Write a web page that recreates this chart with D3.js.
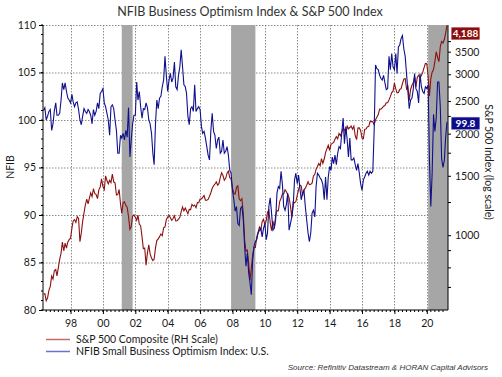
<!doctype html>
<html lang="en">
<head>
<meta charset="utf-8">
<title>NFIB vs S&amp;P 500</title>
<script src="https://d3js.org/d3.v7.min.js"></script>
<style>
  body { margin: 0; background: #fff; }
  svg text { font-family: Lato, "Open Sans", sans-serif; fill: #1a1a1a; }
</style>
</head>
<body>
<svg width="502" height="377"></svg>
<script>
// monthly values, May 1996 .. Apr 2021
var startMonth = "1996-05";

var nfib = [
  101.0, 101.3, 100.0, 100.4, 100.9, 101.1, 98.9, 99.6,                       // 1996 May-Dec
  101.0, 101.8, 100.5, 100.5, 100.7, 102.1, 103.9, 103.2, 103.9, 103.0, 102.3, 102.1, // 1997
  101.8, 102.7, 101.9, 101.4, 101.8, 101.9, 101.1, 100.0, 99.5, 100.4, 101.2, 100.9,  // 1998
  100.7, 101.1, 100.9, 100.5, 99.6, 101.1, 100.5, 100.9, 101.8, 101.2, 102.8, 103.0,  // 1999
  103.3, 101.8, 101.4, 100.7, 100.0, 98.4, 101.4, 101.6, 101.2, 100.0, 98.9, 96.5,    // 2000
  96.5, 98.4, 98.1, 98.6, 97.9, 98.9, 98.2, 101.3, 96.1, 97.9, 99.6, 100.5,           // 2001
  100.5, 104.0, 102.1, 103.0, 101.4, 100.2, 101.2, 101.1, 101.8, 101.3, 100.0, 99.6,  // 2002
  98.6, 96.5, 95.3, 99.6, 102.1, 101.2, 102.3, 102.5, 103.5, 104.2, 106.7, 104.7,     // 2003
  103.0, 104.2, 104.9, 104.0, 104.4, 106.1, 103.5, 103.2, 104.7, 105.6, 107.4, 105.6, // 2004
  103.7, 103.5, 102.8, 100.4, 99.5, 101.2, 101.4, 100.9, 103.7, 100.9, 101.2, 101.4,  // 2005
  101.1, 99.3, 98.6, 98.8, 98.1, 97.2, 96.3, 95.8, 98.9, 100.7, 98.8, 98.4,           // 2006
  97.0, 97.9, 98.2, 96.5, 96.7, 97.9, 96.5, 96.7, 97.2, 96.3, 94.7, 94.4,             // 2007
  92.6, 91.6, 90.4, 90.9, 89.1, 88.9, 90.7, 90.9, 89.5, 86.7, 84.6, 86.0,             // 2008
  83.9, 82.8, 81.6, 85.3, 86.7, 87.2, 87.4, 88.1, 88.4, 88.6, 87.7, 88.6,             // 2009
  89.1, 87.4, 88.1, 90.9, 91.8, 90.2, 88.4, 88.6, 89.5, 92.3, 93.0, 92.8,             // 2010
  94.6, 93.2, 90.9, 90.5, 91.1, 92.3, 88.4, 89.1, 89.8, 90.9, 93.7, 94.4,             // 2011
  93.3, 94.2, 92.8, 91.6, 92.3, 92.6, 90.9, 89.5, 88.1, 87.2, 88.1, 90.2,             // 2012
  90.5, 89.8, 93.0, 94.4, 94.2, 93.9, 93.7, 93.2, 91.6, 94.0, 91.6, 94.0,             // 2013
  95.1, 94.7, 96.1, 95.4, 96.3, 95.3, 96.5, 97.2, 97.0, 98.6, 100.2, 97.5,            // 2014
  99.3, 97.9, 96.1, 98.1, 95.8, 95.8, 96.0, 95.3, 94.7, 95.4, 94.4, 93.3,             // 2015
  92.6, 93.7, 94.0, 94.4, 94.6, 94.2, 94.6, 94.4, 94.6, 98.9, 105.8, 105.4,           // 2016
  105.3, 104.7, 104.4, 104.2, 104.7, 103.9, 103.2, 103.3, 106.7, 105.3, 107.0, 105.6, // 2017
  105.3, 107.0, 104.9, 107.7, 107.9, 108.6, 108.9, 107.5, 106.7, 104.9, 103.0, 101.2, // 2018
  102.1, 102.3, 103.2, 104.9, 103.3, 103.0, 101.8, 104.9, 103.5, 103.0, 102.8, 103.5, // 2019
  103.3, 103.7, 95.8, 90.9, 94.4, 100.6, 98.8, 100.2, 104.0, 104.0, 101.4, 95.9,      // 2020
  95.0, 95.8, 98.2, 99.8                                                              // 2021 Jan-Apr
];

var spx = [
  669, 671, 639, 652, 687, 705, 757, 741,                                // 1996 May-Dec
  786, 791, 757, 801, 848, 885, 954, 899, 947, 915, 955, 970,            // 1997
  980, 1049, 1102, 1112, 1091, 1134, 1121, 957, 1017, 1099, 1164, 1229,  // 1998
  1280, 1238, 1286, 1335, 1302, 1373, 1329, 1320, 1283, 1363, 1389, 1469, // 1999
  1394, 1366, 1499, 1452, 1421, 1455, 1431, 1518, 1437, 1429, 1315, 1320, // 2000
  1366, 1240, 1160, 1249, 1256, 1224, 1211, 1134, 1041, 1060, 1139, 1148, // 2001
  1130, 1107, 1147, 1077, 1067, 990, 912, 916, 815, 886, 936, 880,        // 2002
  856, 841, 848, 917, 964, 975, 990, 1008, 996, 1051, 1058, 1112,         // 2003
  1131, 1145, 1126, 1107, 1121, 1141, 1102, 1104, 1115, 1130, 1174, 1212, // 2004
  1181, 1204, 1181, 1157, 1192, 1191, 1234, 1220, 1229, 1207, 1249, 1248, // 2005
  1280, 1281, 1295, 1311, 1270, 1270, 1277, 1304, 1336, 1378, 1401, 1418, // 2006
  1438, 1407, 1421, 1482, 1531, 1503, 1455, 1474, 1527, 1549, 1481, 1468, // 2007
  1379, 1331, 1323, 1386, 1400, 1280, 1267, 1283, 1166, 969, 896, 903,    // 2008
  826, 735, 798, 873, 919, 919, 987, 1021, 1057, 1036, 1096, 1115,        // 2009
  1074, 1104, 1169, 1187, 1089, 1031, 1102, 1049, 1141, 1183, 1181, 1258, // 2010
  1286, 1327, 1326, 1364, 1345, 1321, 1292, 1219, 1131, 1253, 1247, 1258, // 2011
  1312, 1366, 1408, 1398, 1310, 1362, 1379, 1407, 1441, 1412, 1416, 1426, // 2012
  1498, 1515, 1569, 1598, 1631, 1606, 1686, 1633, 1682, 1757, 1806, 1848, // 2013
  1783, 1859, 1872, 1884, 1924, 1960, 1931, 2003, 1972, 2018, 2068, 2059, // 2014
  1995, 2105, 2068, 2086, 2107, 2063, 2104, 1972, 1920, 2079, 2080, 2044, // 2015
  1940, 1932, 2060, 2065, 2097, 2099, 2174, 2171, 2168, 2126, 2199, 2239, // 2016
  2279, 2364, 2363, 2384, 2412, 2423, 2470, 2472, 2519, 2575, 2648, 2674, // 2017
  2824, 2714, 2641, 2648, 2705, 2718, 2816, 2902, 2914, 2712, 2760, 2507, // 2018
  2704, 2784, 2834, 2946, 2752, 2942, 2980, 2926, 2977, 3038, 3141, 3231, // 2019
  3226, 2954, 2585, 2912, 3044, 3100, 3271, 3500, 3363, 3270, 3622, 3756, // 2020
  3714, 3811, 3973, 4188                                                   // 2021 Jan-Apr
];

var recessions = [["2001-03", "2001-11"], ["2007-12", "2009-06"], ["2020-02", "2021-04"]];
var xTickYears = [1998, 2000, 2002, 2004, 2006, 2008, 2010, 2012, 2014, 2016, 2018, 2020];
var leftTicks = [80, 85, 90, 95, 100, 105, 110];
var rightTicks = [1000, 1500, 2000, 2500, 3000, 3500];
var rightMinorTicks = [700, 800, 900, 1250, 1750, 2250, 2750, 3250, 3750];
var seriesNames = ["S&P 500 Composite (RH Scale)", "NFIB Small Business Optimism Index: U.S."];
var lastLabels = ["4,188", "99.8"];

var svg = d3.select("svg");
var parseMonth = d3.timeParse("%Y-%m");
var start = parseMonth(startMonth);
var dates = nfib.map(function(d, i){ return d3.timeMonth.offset(start, i); });

var pl = 43, pr = 448, pt = 25, pb = 310;
var x = d3.scaleTime().domain([dates[0], dates[dates.length - 1]]).range([43.5, 447]);
var yL = d3.scaleLinear().domain([80, 110]).range([pb, pt]);
var yR = d3.scaleLog().domain([600, 4200]).range([pb, pt]);

var red = "#8c1010", blue = "#10108c";

// title
svg.append("text").attr("x", 250).attr("y", 16).attr("text-anchor", "middle")
  .style("font-size", "12.5px").style("fill", "#333").text("NFIB Business Optimism Index & S&P 500 Index");

// grid
var grid = svg.append("g").attr("stroke", "#8a8a8a").attr("stroke-dasharray", "1.5,1.5").attr("stroke-width", 1);
leftTicks.slice(1).forEach(function(v){
  grid.append("line").attr("x1", pl).attr("x2", pr).attr("y1", yL(v) + 0.5).attr("y2", yL(v) + 0.5);
});
xTickYears.forEach(function(yr){
  var px = Math.round(x(new Date(yr, 0, 1))) + 0.5;
  grid.append("line").attr("x1", px).attr("x2", px).attr("y1", pt).attr("y2", pb);
});

// recession shading
svg.append("g").selectAll("rect").data(recessions).enter().append("rect")
  .attr("x", function(d){ return x(parseMonth(d[0])); })
  .attr("width", function(d, i){
    var e = i === recessions.length - 1 ? pr : x(parseMonth(d[1]));
    return e - x(parseMonth(d[0]));
  })
  .attr("y", pt).attr("height", pb - pt)
  .attr("fill", "#a6a6a6");

// left axis
var axL = svg.append("g").attr("transform", "translate(" + pl + ",0)")
  .call(d3.axisLeft(yL).tickValues(leftTicks).tickSize(4).tickPadding(3));
axL.append("g").selectAll("line").data(d3.range(80, 111)).enter().append("line")
  .attr("x1", -2).attr("x2", 0).attr("y1", function(d){ return yL(d); }).attr("y2", function(d){ return yL(d); })
  .attr("stroke", "#000");

// right axis
var axR = svg.append("g").attr("transform", "translate(" + pr + ",0)")
  .call(d3.axisRight(yR).tickValues(rightTicks).tickFormat(d3.format("d")).tickSize(3).tickPadding(4));
axR.append("g").selectAll("line").data(rightMinorTicks).enter().append("line")
  .attr("x1", 0).attr("x2", 3).attr("y1", function(d){ return yR(d); }).attr("y2", function(d){ return yR(d); })
  .attr("stroke", "#000");

// bottom axis
var axB = svg.append("g").attr("transform", "translate(0," + pb + ")")
  .call(d3.axisBottom(x).tickValues(xTickYears.map(function(yr){ return new Date(yr, 0, 1); }))
    .tickFormat(d3.timeFormat("%y")).tickSize(4).tickPadding(6));
axB.append("g").selectAll("line").data(d3.timeMonth.every(3).range(dates[0], dates[dates.length - 1])).enter().append("line")
  .attr("x1", function(d){ return x(d); }).attr("x2", function(d){ return x(d); })
  .attr("y1", 0).attr("y2", 2).attr("stroke", "#000");

[axL, axR, axB].forEach(function(a){
  a.select(".domain").remove();
  a.selectAll("text").style("font-size", "10.5px").attr("fill", "#1a1a1a");
  a.selectAll(".tick line").attr("stroke", "#000");
});
axL.append("line").attr("y1", pt).attr("y2", pb).attr("stroke", "#000");
axR.append("line").attr("y1", pt).attr("y2", pb).attr("stroke", "#000");
axB.append("line").attr("x1", pl).attr("x2", pr).attr("stroke", "#000");

// axis titles
svg.append("text").attr("transform", "translate(14,167) rotate(-90)").attr("text-anchor", "middle")
  .style("font-size", "10.5px").text("NFIB");
svg.append("text").attr("transform", "translate(485,162) rotate(90)").attr("text-anchor", "middle")
  .style("font-size", "10.5px").text("S&P 500 Index (log scale)");

// series
var spxLine = d3.line().x(function(d, i){ return x(dates[i]); }).y(function(d){ return yR(d); });
var nfibLine = d3.line().x(function(d, i){ return x(dates[i]); }).y(function(d){ return yL(d); });
svg.append("path").datum(spx).attr("d", spxLine).attr("fill", "none").attr("stroke", red).attr("stroke-width", 1.1);
svg.append("path").datum(nfib).attr("d", nfibLine).attr("fill", "none").attr("stroke", blue).attr("stroke-width", 1.1);

// last value boxes (kept inside the plot top)
var boxes = [
  { text: lastLabels[0], y: yR(spx[spx.length - 1]), fill: "#8b0d0d" },
  { text: lastLabels[1], y: yL(nfib[nfib.length - 1]), fill: "#0d0d8b" }
];
boxes.forEach(function(b){
  var cy = Math.max(b.y + 1.5, pt + 8.5);
  var g = svg.append("g").attr("transform", "translate(451," + cy + ")");
  g.append("rect").attr("x", 0).attr("y", -6.5).attr("width", 29).attr("height", 13)
    .attr("fill", b.fill).attr("stroke", "#fff").attr("stroke-width", 0.8);
  g.append("text").attr("x", 14.5).attr("y", 3.6).attr("text-anchor", "middle")
    .style("font-size", "10px").style("font-weight", "bold").style("fill", "#fff").text(b.text);
});

// legend
var legendColors = ["#c46a6a", "#6f6fd2"];
seriesNames.forEach(function(name, i){
  var ly = 339.5 + i * 12;
  svg.append("line").attr("x1", 46).attr("x2", 70).attr("y1", ly).attr("y2", ly)
    .attr("stroke", legendColors[i]).attr("stroke-width", 1.5);
  svg.append("text").attr("x", 76).attr("y", ly + 3.8).style("font-size", "10.5px").text(name);
});

// source
svg.append("text").attr("x", 488).attr("y", 369.5).attr("text-anchor", "end")
  .style("font-size", "8px").style("font-style", "italic").style("font-family", "'Liberation Sans', Arial, sans-serif")
  .style("fill", "#333").text("Source: Refinitiv Datastream & HORAN Capital Advisors");
</script>
</body>
</html>
